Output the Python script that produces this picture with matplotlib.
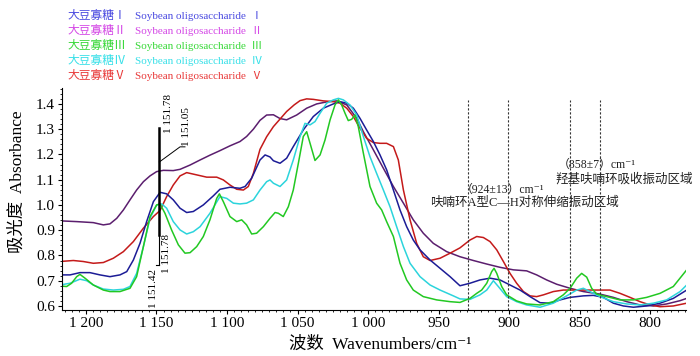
import numpy as np
import matplotlib.pyplot as plt
from matplotlib.ticker import MultipleLocator

plt.rcParams['font.family'] = ['Liberation Serif', 'Noto Sans CJK SC', 'DejaVu Sans']

# ---- spectra: (wavenumber cm-1, absorbance) ----
spec_I = [(1218.4, 0.723), (1211.3, 0.723), (1204.3, 0.732), (1197.2, 0.732), (1190.1, 0.723), (1183.0, 0.716),
          (1175.9, 0.723), (1171.1, 0.736), (1166.4, 0.782), (1161.7, 0.848), (1157.0, 0.934), (1152.2, 1.013),
          (1147.5, 1.050), (1142.8, 1.044), (1138.1, 1.020), (1133.3, 0.987), (1128.6, 0.970), (1123.9, 0.974),
          (1116.8, 1.000), (1109.7, 1.036), (1105.0, 1.062), (1097.9, 1.070), (1090.8, 1.066), (1087.2, 1.073),
          (1082.5, 1.106), (1076.6, 1.178), (1073.0, 1.198), (1069.5, 1.190), (1067.1, 1.175), (1062.4, 1.165),
          (1057.7, 1.185), (1053.0, 1.231), (1045.9, 1.297), (1038.8, 1.350), (1031.7, 1.383), (1024.6, 1.400),
          (1019.9, 1.409), (1015.1, 1.403), (1010.4, 1.383), (1005.7, 1.343), (1001.0, 1.297), (996.2, 1.251),
          (991.5, 1.198), (986.8, 1.139), (982.0, 1.059), (977.3, 0.980), (972.6, 0.914), (967.9, 0.861),
          (963.1, 0.822), (956.0, 0.782), (948.9, 0.749), (941.8, 0.716), (934.8, 0.680), (927.7, 0.690),
          (920.6, 0.703), (913.5, 0.710), (906.4, 0.703), (899.3, 0.683), (892.2, 0.663), (885.1, 0.637),
          (878.0, 0.613), (870.9, 0.611), (863.8, 0.624), (856.7, 0.634), (847.3, 0.640), (840.2, 0.642),
          (833.1, 0.634), (826.0, 0.611), (818.9, 0.600), (811.8, 0.595), (802.4, 0.600), (792.9, 0.611),
          (783.5, 0.630), (774.0, 0.663)]

spec_II = [(1218.4, 0.937), (1206.6, 0.934), (1194.8, 0.930), (1187.7, 0.921), (1183.0, 0.925), (1178.2, 0.947),
           (1173.5, 0.980), (1168.8, 1.020), (1164.1, 1.059), (1159.3, 1.092), (1154.6, 1.115), (1149.9, 1.132),
           (1145.1, 1.137), (1138.1, 1.136), (1133.3, 1.141), (1126.2, 1.158), (1119.1, 1.178), (1112.1, 1.197),
           (1105.0, 1.215), (1097.9, 1.234), (1090.8, 1.251), (1086.1, 1.271), (1081.3, 1.300), (1076.6, 1.335),
           (1071.9, 1.356), (1067.1, 1.357), (1062.4, 1.342), (1057.7, 1.337), (1050.6, 1.356), (1043.5, 1.383),
           (1036.4, 1.400), (1029.3, 1.408), (1022.2, 1.412), (1015.1, 1.396), (1008.0, 1.343), (1003.3, 1.290),
           (996.2, 1.218), (989.1, 1.145), (982.0, 1.073), (974.9, 1.007), (967.9, 0.941), (960.8, 0.888),
           (953.7, 0.848), (944.2, 0.815), (934.8, 0.795), (925.3, 0.780), (915.8, 0.766), (906.4, 0.753),
           (896.9, 0.743), (887.5, 0.739), (880.4, 0.723), (873.3, 0.703), (866.2, 0.686), (856.7, 0.670),
           (847.3, 0.657), (835.5, 0.647), (826.0, 0.634), (816.5, 0.617), (807.1, 0.604), (797.6, 0.600),
           (788.2, 0.608), (778.7, 0.621), (774.0, 0.630)]

spec_III = [(1218.4, 0.679), (1213.7, 0.677), (1210.2, 0.690), (1206.6, 0.716), (1204.3, 0.725), (1200.7, 0.710),
            (1194.8, 0.683), (1187.7, 0.663), (1183.0, 0.657), (1175.9, 0.657), (1168.8, 0.670), (1164.1, 0.716),
            (1159.3, 0.835), (1154.6, 0.954), (1149.9, 1.000), (1147.5, 1.004), (1144.0, 0.967), (1139.3, 0.901),
            (1134.5, 0.842), (1129.8, 0.809), (1126.2, 0.811), (1121.5, 0.835), (1116.8, 0.875), (1112.1, 0.941),
            (1107.3, 1.026), (1105.4, 1.044), (1102.6, 1.013), (1097.9, 0.954), (1093.1, 0.934), (1089.6, 0.941),
            (1086.1, 0.921), (1082.5, 0.885), (1079.0, 0.888), (1074.2, 0.914), (1069.5, 0.947), (1065.9, 0.970),
            (1063.6, 0.967), (1060.1, 0.954), (1056.5, 0.993), (1053.0, 1.059), (1049.4, 1.165), (1045.9, 1.271),
            (1043.5, 1.290), (1041.1, 1.244), (1037.6, 1.176), (1034.0, 1.198), (1030.5, 1.257), (1026.9, 1.337),
            (1023.4, 1.396), (1021.0, 1.416), (1018.7, 1.396), (1016.3, 1.363), (1014.0, 1.334), (1011.6, 1.339),
            (1009.2, 1.356), (1006.9, 1.310), (1003.3, 1.205), (998.6, 1.073), (993.9, 1.007), (990.3, 0.980),
            (986.8, 0.934), (982.0, 0.875), (977.3, 0.769), (972.6, 0.703), (967.9, 0.663), (960.8, 0.637),
            (951.3, 0.624), (941.8, 0.617), (934.8, 0.614), (927.7, 0.630), (922.9, 0.650), (919.4, 0.663),
            (915.8, 0.690), (912.3, 0.736), (910.6, 0.749), (908.7, 0.729), (905.2, 0.677), (901.7, 0.644),
            (894.6, 0.620), (887.5, 0.608), (878.0, 0.604), (868.6, 0.617), (861.5, 0.644), (856.7, 0.670),
            (852.0, 0.710), (848.5, 0.729), (844.9, 0.714), (841.4, 0.670), (837.8, 0.647), (830.8, 0.637),
            (821.3, 0.624), (811.8, 0.624), (802.4, 0.634), (792.9, 0.650), (783.5, 0.677), (774.0, 0.743)]

spec_IV = [(1218.4, 0.683), (1211.3, 0.690), (1204.3, 0.706), (1199.5, 0.700), (1194.8, 0.683), (1187.7, 0.667),
           (1180.6, 0.663), (1173.5, 0.666), (1168.8, 0.677), (1164.1, 0.729), (1159.3, 0.835), (1154.6, 0.947),
           (1149.9, 1.000), (1146.3, 1.004), (1142.8, 0.987), (1138.1, 0.934), (1133.3, 0.901), (1128.6, 0.885),
           (1123.9, 0.894), (1119.1, 0.914), (1112.1, 0.967), (1105.0, 1.033), (1100.2, 1.026), (1095.5, 1.007),
           (1090.8, 1.004), (1086.1, 1.007), (1081.3, 1.020), (1076.6, 1.059), (1071.9, 1.092), (1069.5, 1.099),
           (1067.1, 1.086), (1062.4, 1.073), (1057.7, 1.099), (1053.0, 1.178), (1048.2, 1.271), (1044.7, 1.323),
           (1041.1, 1.317), (1037.6, 1.330), (1034.0, 1.363), (1029.3, 1.403), (1024.6, 1.416), (1021.0, 1.422),
           (1017.5, 1.416), (1012.8, 1.396), (1008.0, 1.356), (1003.3, 1.271), (998.6, 1.191), (993.9, 1.125),
           (989.1, 1.059), (984.4, 0.993), (979.7, 0.914), (974.9, 0.835), (970.2, 0.769), (963.1, 0.716),
           (956.0, 0.683), (948.9, 0.663), (939.5, 0.640), (934.8, 0.628), (927.7, 0.626), (920.6, 0.644),
           (915.8, 0.663), (911.1, 0.700), (907.6, 0.677), (901.7, 0.637), (894.6, 0.617), (887.5, 0.604),
           (878.0, 0.595), (868.6, 0.611), (859.1, 0.640), (852.0, 0.663), (847.3, 0.670), (842.6, 0.657),
           (835.5, 0.637), (826.0, 0.617), (816.5, 0.608), (807.1, 0.604), (797.6, 0.611), (788.2, 0.624),
           (778.7, 0.657), (774.0, 0.683)]

spec_V = [(1218.4, 0.776), (1209.0, 0.780), (1201.9, 0.776), (1194.8, 0.769), (1187.7, 0.772), (1180.6, 0.789),
          (1173.5, 0.815), (1166.4, 0.855), (1159.3, 0.908), (1152.2, 0.954), (1147.5, 0.978), (1142.8, 1.033),
          (1138.1, 1.079), (1133.3, 1.115), (1128.6, 1.128), (1121.5, 1.119), (1114.4, 1.110), (1107.3, 1.110),
          (1102.6, 1.099), (1097.9, 1.079), (1093.1, 1.062), (1088.4, 1.059), (1084.9, 1.073), (1081.3, 1.125),
          (1076.6, 1.220), (1071.9, 1.270), (1067.1, 1.310), (1062.4, 1.340), (1057.7, 1.370), (1052.4, 1.396),
          (1048.2, 1.413), (1043.5, 1.420), (1038.8, 1.418), (1031.7, 1.412), (1024.6, 1.409), (1019.9, 1.403),
          (1015.1, 1.383), (1010.4, 1.350), (1005.7, 1.304), (1001.0, 1.264), (996.2, 1.247), (991.5, 1.244),
          (986.8, 1.244), (982.0, 1.231), (978.5, 1.178), (974.9, 1.059), (970.2, 0.941), (965.5, 0.848),
          (960.8, 0.795), (956.0, 0.780), (948.9, 0.789), (941.8, 0.809), (934.8, 0.830), (927.7, 0.861),
          (922.9, 0.875), (918.2, 0.871), (913.5, 0.855), (908.7, 0.822), (904.0, 0.776), (899.3, 0.729),
          (894.6, 0.690), (889.8, 0.657), (885.1, 0.640), (880.4, 0.637), (875.6, 0.644), (868.6, 0.657),
          (861.5, 0.663), (854.4, 0.663), (844.9, 0.663), (835.5, 0.663), (828.4, 0.663), (821.3, 0.650),
          (814.2, 0.634), (807.1, 0.617), (800.0, 0.604), (792.9, 0.597), (783.5, 0.600), (774.0, 0.611)]

numerals = ['Ⅰ', 'Ⅱ', 'Ⅲ', 'Ⅳ', 'Ⅴ']
line_colors = ['#1c1c96', '#5b1e6e', '#22c822', '#2cd4dc', '#c41a1a']
legend_colors = ['#4a4ae0', '#d448e6', '#38d838', '#38e0e8', '#e83a3a']

xticks = [1200, 1150, 1100, 1050, 1000, 950, 900, 850, 800]
xticklabels = ['1 200', '1 150', '1 100', '1 050', '1 000', '950', '900', '850', '800']
yticks = [0.6, 0.7, 0.8, 0.9, 1.0, 1.1, 1.2, 1.3, 1.4]

# dashed region borders and the 1 151 peak marker
region_lines = [929, 900.7, 856.7, 835.5]
mark_wn = 1148

fig = plt.figure(figsize=(7, 3.56), dpi=100)
ax = fig.add_axes([0.0886, 0.1292, 0.8914, 0.6236])

series = [spec_I, spec_II, spec_III, spec_IV, spec_V]
for i in [1, 4, 0, 3, 2]:
    arr = np.array(series[i])
    ax.plot(arr[:, 0], arr[:, 1], color=line_colors[i], lw=1.1)

for x in region_lines:
    ax.plot([x, x], [0.584, 1.416], color='#333333', lw=0.8, ls=(0, (2, 1.6)))

# peak marker
ax.plot([mark_wn, mark_wn], [0.881, 1.305], color='black', lw=1.8)
ax.plot([mark_wn, mark_wn], [0.762, 0.881], color='black', lw=0.8)
ax.plot([mark_wn + 2.5, mark_wn], [0.762, 0.762], color='black', lw=0.8)
ax.plot([mark_wn, 1133.3, 1129.8], [1.170, 1.230, 1.230], color='black', lw=0.7)
ax.text(1141.8, 1.364, '1 151.78', rotation=90, ha='center', va='center', fontsize=8)
ax.text(1128.4, 1.309, '1 151.05', rotation=90, ha='center', va='center', fontsize=8)
ax.text(1142.6, 0.806, '1 151.78', rotation=90, ha='center', va='center', fontsize=8)
ax.text(1151.8, 0.671, '1 151.42', rotation=90, ha='center', va='center', fontsize=8)

ax.set_xlim(1217, 774.5)
ax.set_ylim(0.584, 1.463)
ax.set_xticks(xticks)
ax.set_xticklabels(xticklabels)
ax.set_yticks(yticks)
ax.set_yticklabels(['%.1f' % v for v in yticks])
ax.xaxis.set_minor_locator(MultipleLocator(5))
ax.yaxis.set_minor_locator(MultipleLocator(0.02))
ax.tick_params(which='major', direction='out', length=3, width=0.8, labelsize=11, pad=2)
ax.tick_params(which='minor', direction='out', length=1.5, width=0.6)
for s in ['top', 'right']:
    ax.spines[s].set_visible(False)
for s in ['left', 'bottom']:
    ax.spines[s].set_linewidth(0.8)

fig.text(380 / 700, 1 - 345 / 356, '波数  Wavenumbers/cm⁻¹', fontsize=12.5, ha='center', va='center')
fig.text(18 / 700, 1 - 182 / 356, '吸光度  Absorbance', fontsize=12.5, ha='center', va='center', rotation=90)

# legend as coloured text rows
legend_y = [16, 31, 46, 61, 76]
for i in range(5):
    fy = 1 - legend_y[i] / 356
    fig.text(67 / 700, fy, '大豆寡糖' + numerals[i], color=legend_colors[i], fontsize=8.5, va='center')
    fig.text(135 / 700, fy, 'Soybean oligosaccharide  ' + numerals[i], color=legend_colors[i],
             fontsize=8, va='center')

# region notes
note_color = '#222222'
fig.text(597 / 700, 1 - 165 / 356, '（858±7）cm⁻¹', fontsize=8.5, ha='center', va='center', color=note_color)
fig.text(624 / 700, 1 - 179 / 356, '羟基呋喃环吸收振动区域', fontsize=9, ha='center', va='center', color=note_color)
fig.text(502 / 700, 1 - 190 / 356, '（924±13）cm⁻¹', fontsize=8.5, ha='center', va='center', color=note_color)
fig.text(524 / 700, 1 - 203 / 356, '呋喃环A型C—H对称伸缩振动区域', fontsize=9, ha='center', va='center', color=note_color)

fig.savefig('out.png', dpi=100)
